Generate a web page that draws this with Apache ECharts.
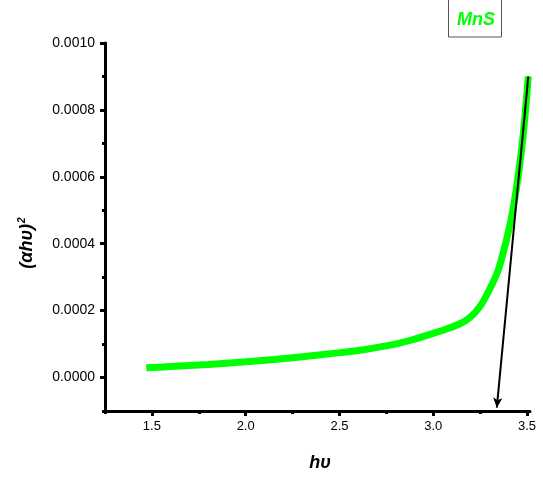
<!DOCTYPE html>
<html>
<head>
<meta charset="utf-8">
<script src="https://cdn.jsdelivr.net/npm/echarts@6/dist/echarts.min.js"></script>
<style>
  html, body { margin: 0; padding: 0; background: #fff; }
  #chart { width: 543px; height: 479px; }
</style>
</head>
<body>
<div id="chart"></div>
<script>
// Photon energy (eV) and (alpha*h*nu)^2 for the MnS film
const hv = [1.47, 1.6, 1.8, 2.0, 2.15, 2.3, 2.48, 2.6, 2.71, 2.82, 2.89, 3.0,
            3.07, 3.14, 3.195, 3.25, 3.30, 3.347, 3.382, 3.418, 3.445, 3.471, 3.489, 3.507];
const ahv2 = [0.000029, 0.000033, 0.000039, 0.000047, 0.000054, 0.000062, 0.000073, 0.000081, 0.000091, 0.000103, 0.000113, 0.000132,
              0.000145, 0.000160, 0.000179, 0.000213, 0.000263, 0.000322, 0.000392, 0.000481, 0.000571, 0.000681, 0.00078, 0.0009];

// Linear extrapolation of the absorption edge down to the energy axis
const tangentX = [3.507, 3.339];
const tangentY = [0.0009, -0.00009];

const yMajor = [0.0000, 0.0002, 0.0004, 0.0006, 0.0008, 0.0010];
const yMinor = [-0.0001, 0.0001, 0.0003, 0.0005, 0.0007, 0.0009];
const xMajor = [1.5, 2.0, 2.5, 3.0, 3.5];
const xMinor = [1.25, 1.75, 2.25, 2.75, 3.25];

const FONT = '"Liberation Sans", Arial, sans-serif';

const chart = echarts.init(document.getElementById('chart'));

const axisLineStyle = { color: '#000', width: 3 };

chart.setOption({
  animation: false,
  grid: { left: 105, right: 13, top: 43, bottom: 68 },
  xAxis: [
    {
      type: 'value', min: 1.25, max: 3.516,
      splitLine: { show: false },
      axisLine: { onZero: false, lineStyle: axisLineStyle },
      axisTick: { customValues: xMajor, length: 5, lineStyle: { width: 3, color: '#000' } },
      axisLabel: {
        customValues: xMajor, color: '#000', fontFamily: FONT, fontSize: 13, margin: 9,
        formatter: v => v.toFixed(1)
      },
      name: 'hυ', nameLocation: 'middle', nameGap: 43,
      nameTextStyle: { fontFamily: FONT, fontSize: 18, fontWeight: 'bold', fontStyle: 'italic', color: '#000', padding: [0, 0, 0, 5] }
    },
    {
      type: 'value', min: 1.25, max: 3.516, position: 'bottom',
      splitLine: { show: false },
      axisLine: { show: false, onZero: false },
      axisTick: { customValues: xMinor, length: 3, lineStyle: { width: 3, color: '#000' } },
      axisLabel: { show: false }
    }
  ],
  yAxis: [
    {
      type: 'value', min: -0.0001, max: 0.001,
      splitLine: { show: false },
      axisLine: { onZero: false, lineStyle: axisLineStyle },
      axisTick: { customValues: yMajor, length: 5, lineStyle: { width: 3, color: '#000' } },
      axisLabel: {
        customValues: yMajor, color: '#000', fontFamily: FONT, fontSize: 14, margin: 10,
        formatter: v => v.toFixed(4)
      },
      name: '{b|(αhυ)}{s|2}', nameLocation: 'middle', nameRotate: 90, nameGap: 68,
      nameTextStyle: {
        padding: [0, 32, 0, 0],
        rich: {
          b: { fontFamily: FONT, fontSize: 18, fontWeight: 'bold', fontStyle: 'italic', color: '#000' },
          s: { fontFamily: FONT, fontSize: 10, fontWeight: 'bold', fontStyle: 'italic', color: '#000', verticalAlign: 'top', padding: [0, 0, 10, 1] }
        }
      }
    },
    {
      type: 'value', min: -0.0001, max: 0.001, position: 'left',
      splitLine: { show: false },
      axisLine: { show: false, onZero: false },
      axisTick: { customValues: yMinor, length: 3, lineStyle: { width: 3, color: '#000' } },
      axisLabel: { show: false }
    }
  ],
  graphic: [
    {
      type: 'rect', shape: { x: 448.5, y: -2, width: 53, height: 39 },
      style: { fill: '#fff', stroke: '#555', lineWidth: 1 }
    },
    {
      type: 'text', x: 476, y: 20,
      style: {
        text: 'MnS', fill: '#00ff00', font: 'italic bold 18px "Liberation Sans", Arial, sans-serif',
        align: 'center', verticalAlign: 'middle'
      }
    }
  ],
  series: [
    {
      type: 'line', name: 'MnS',
      data: hv.map((x, i) => [x, ahv2[i]]),
      showSymbol: false, smooth: 0.2,
      lineStyle: { color: '#00ff00', width: 7 },
      z: 2
    },
    {
      type: 'line',
      data: [],
      markLine: {
        silent: true,
        symbol: ['none', 'arrow'], symbolSize: [7, 10],
        label: { show: false },
        lineStyle: { color: '#000', width: 2, type: 'solid' },
        data: [[
          { coord: [tangentX[0], tangentY[0]] },
          { coord: [tangentX[1], tangentY[1]] }
        ]]
      },
      z: 3
    }
  ]
});
</script>
</body>
</html>
